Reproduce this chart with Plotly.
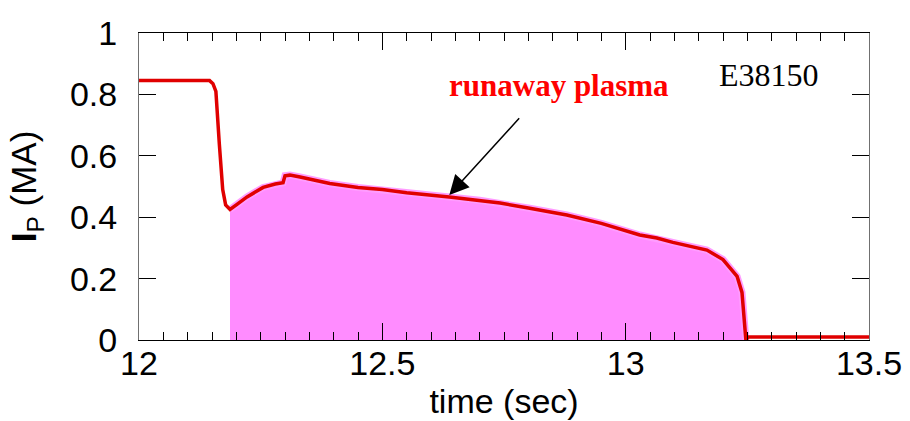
import plotly.graph_objects as go

# Plasma current trace for shot E38150
time_s = [12.0, 12.145, 12.152, 12.158, 12.165, 12.172, 12.178, 12.187, 12.20, 12.222,
          12.255, 12.28, 12.296, 12.300, 12.31, 12.331, 12.392, 12.45, 12.50, 12.55,
          12.6376, 12.70, 12.742, 12.80, 12.879, 12.95, 13.029, 13.064, 13.097, 13.167,
          13.20, 13.229, 13.239, 13.247, 13.252, 13.35, 13.5]
ip_ma = [0.845, 0.845, 0.835, 0.81, 0.64, 0.49, 0.44, 0.425, 0.44, 0.466,
         0.497, 0.508, 0.512, 0.535, 0.537, 0.531, 0.51, 0.497, 0.49, 0.48,
         0.466, 0.455, 0.446, 0.43, 0.407, 0.38, 0.342, 0.332, 0.318, 0.293,
         0.262, 0.207, 0.155, 0.0, 0.01, 0.01, 0.01]

# Runaway phase window (shaded)
runaway_start = 12.185
runaway_end = 13.248

x_ticks = [12, 12.5, 13, 13.5]
y_ticks = [0, 0.2, 0.4, 0.6, 0.8, 1]

fill_t = [t for t in time_s if runaway_start <= t <= runaway_end]
fill_i = [v for t, v in zip(time_s, ip_ma) if runaway_start <= t <= runaway_end]

fig = go.Figure()
fig.add_trace(go.Scatter(
    x=fill_t, y=fill_i, mode="lines", fill="tozeroy",
    fillcolor="#ff8cff", line=dict(color="#ff9cff", width=7),
    hoverinfo="skip", showlegend=False,
))
fig.add_trace(go.Scatter(
    x=time_s, y=ip_ma, mode="lines",
    line=dict(color="#e00000", width=3.5),
    showlegend=False,
))

fig.add_annotation(
    x=12.6376, y=0.472, ax=12.784, ay=0.727,
    xref="x", yref="y", axref="x", ayref="y",
    text="", showarrow=True, arrowhead=2, arrowsize=2.6,
    arrowwidth=1.5, arrowcolor="black",
)
fig.add_annotation(
    x=12.864, y=0.83, xref="x", yref="y", showarrow=False,
    text="<b>runaway plasma</b>",
    font=dict(family="Liberation Serif", size=31, color="#ff0000"),
)
fig.add_annotation(
    x=13.294, y=0.862, xref="x", yref="y", showarrow=False,
    text="E38150",
    font=dict(family="Liberation Serif", size=32, color="black"),
)

tick_font = dict(family="Liberation Sans", size=34, color="black")

fig.update_layout(
    width=910, height=421,
    margin=dict(l=139, r=41, t=33, b=81),
    paper_bgcolor="white", plot_bgcolor="white",
    xaxis=dict(
        range=[12, 13.5], tickvals=x_ticks, ticktext=["12", "12.5", "13", "13.5"],
        ticks="inside", ticklen=17, tickwidth=1, tickcolor="black",
        minor=dict(dtick=0.05, tick0=12, ticks="inside", ticklen=8,
                   tickwidth=1, tickcolor="black", showgrid=False),
        showline=True, linecolor="black", linewidth=1, mirror="ticks",
        showgrid=False, zeroline=False, tickfont=tick_font,
        ticklabelstandoff=-7, automargin=False,
        title=dict(text="time (sec)", standoff=8,
                   font=dict(family="Liberation Sans", size=34, color="black")),
    ),
    yaxis=dict(
        range=[0, 1], tickvals=y_ticks, ticktext=["0", "0.2", "0.4", "0.6", "0.8", "1"],
        ticks="inside", ticklen=17, tickwidth=1, tickcolor="black",
        showline=True, linecolor="#707070", linewidth=1, mirror="ticks",
        showgrid=False, zeroline=False, tickfont=tick_font,
        ticklabelstandoff=14, automargin=False,
        title=dict(text="<b>I</b><sub>P</sub> (MA)", standoff=22,
                   font=dict(family="Liberation Sans", size=35, color="black")),
    ),
)

fig.write_html("out.html")
